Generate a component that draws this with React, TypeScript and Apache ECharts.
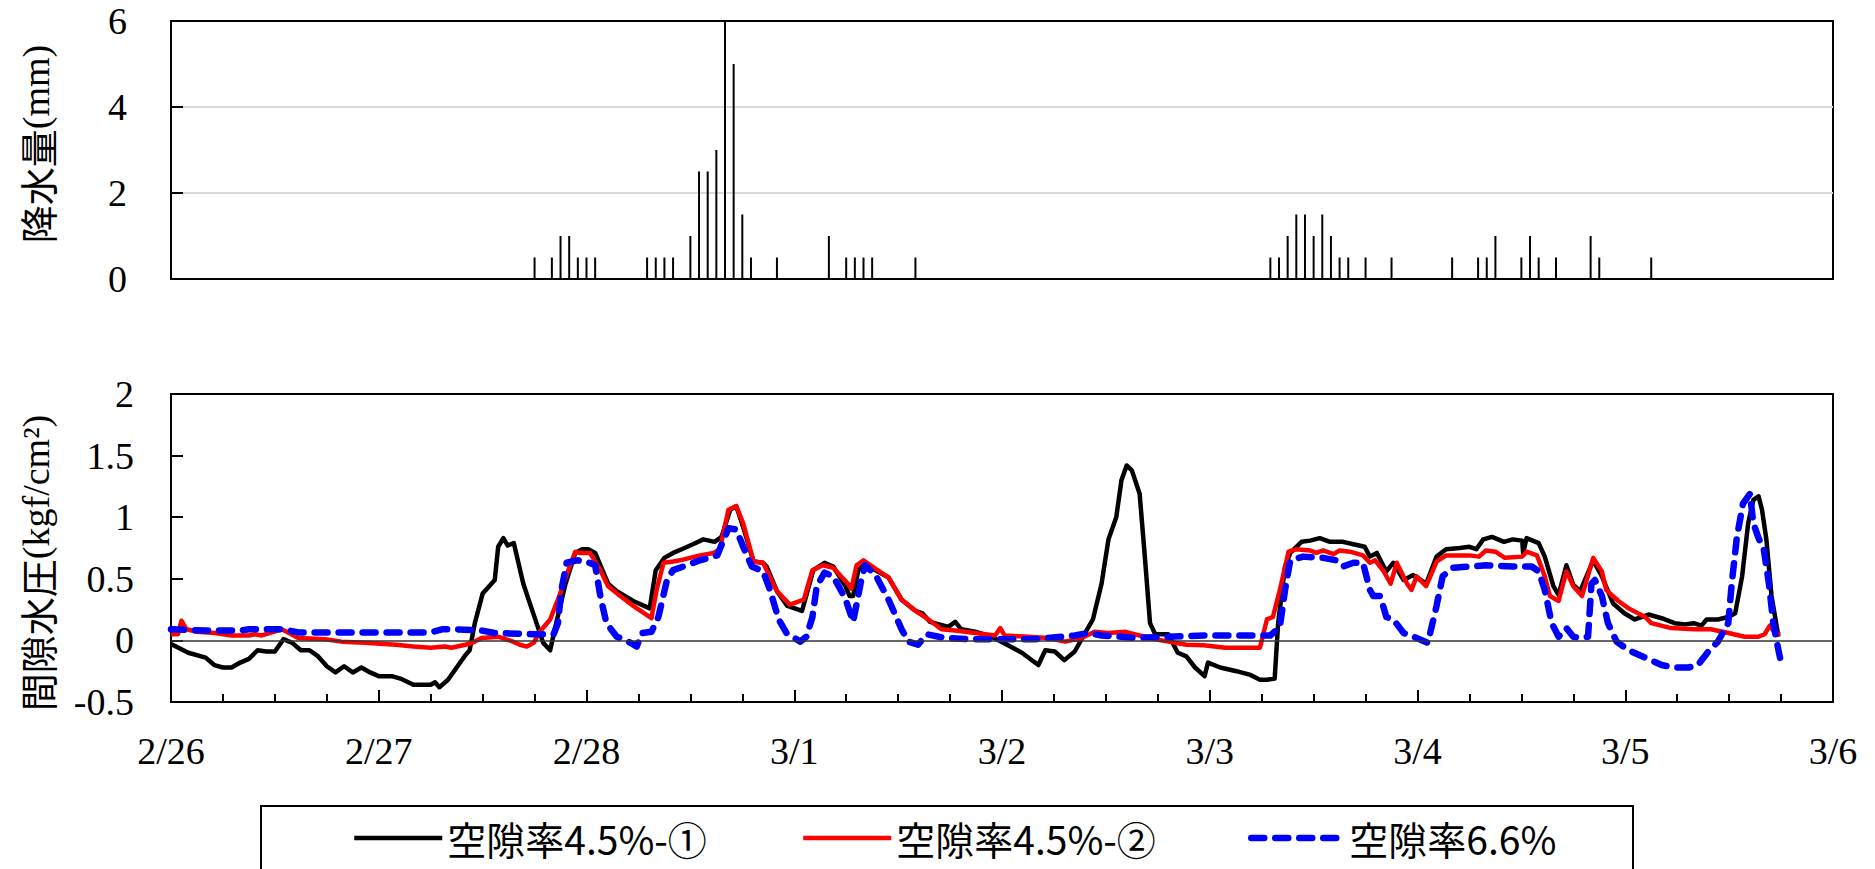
import React, { useEffect, useRef } from 'react';
import * as echarts from 'echarts';

// x positions are hours counted from 2/26 0:00
const DATE_LABELS = ['2/26', '2/27', '2/28', '3/1', '3/2', '3/3', '3/4', '3/5', '3/6'];
const SERIES_NAMES = ['空隙率4.5%-①', '空隙率4.5%-②', '空隙率6.6%'];

// hourly rainfall [hour, mm]
const RAIN: [number, number][] = [
  [42, 0.5], [44, 0.5], [45, 1], [46, 1], [47, 0.5], [48, 0.5], [49, 0.5],
  [55, 0.5], [56, 0.5], [57, 0.5], [58, 0.5], [60, 1], [61, 2.5], [62, 2.5], [63, 3],
  [64, 6], [65, 5], [66, 1.5], [67, 0.5], [70, 0.5], [76, 1], [78, 0.5], [79, 0.5],
  [80, 0.5], [81, 0.5], [86, 0.5],
  [127, 0.5], [128, 0.5], [129, 1], [130, 1.5], [131, 1.5], [132, 1], [133, 1.5], [134, 1],
  [135, 0.5], [136, 0.5], [138, 0.5], [141, 0.5], [148, 0.5], [151, 0.5], [152, 0.5],
  [153, 1], [156, 0.5], [157, 1], [158, 0.5], [160, 0.5], [164, 1], [165, 0.5], [171, 0.5],
];

// pore water pressure [hour, kgf/cm2]
const PORE_1: [number, number][] = [
  [0, -0.03], [2, -0.1], [4, -0.14], [5, -0.2], [6, -0.22], [7, -0.22], [8, -0.18], [9, -0.15],
  [10, -0.08], [11, -0.09], [12, -0.09], [13, 0.01], [14, -0.02], [15, -0.08], [16, -0.08],
  [17, -0.13], [18, -0.21], [19, -0.26], [20, -0.21], [21, -0.26], [22, -0.22], [23, -0.26],
  [24, -0.29], [25.5, -0.29], [26.5, -0.31], [28, -0.36], [30, -0.36], [30.5, -0.34], [31, -0.38],
  [32, -0.32], [33, -0.22], [34, -0.12], [34.5, -0.08], [35.1, 0.14], [36, 0.38], [36.5, 0.42],
  [37.4, 0.49], [37.8, 0.76], [38.4, 0.83], [38.9, 0.77], [39.6, 0.79], [40.7, 0.46], [41.7, 0.25],
  [43, -0.02], [43.8, -0.08], [44.5, 0.14], [45.5, 0.44], [46.7, 0.71], [47.5, 0.74], [48.2, 0.74],
  [49, 0.71], [50.5, 0.46], [51.5, 0.4], [53.4, 0.32], [55.3, 0.26], [56, 0.57], [57, 0.67],
  [58, 0.71], [59, 0.74], [60.3, 0.78], [61.5, 0.82], [62.8, 0.8], [63.6, 0.84], [64.6, 1.06],
  [65.3, 1.09], [66.1, 0.92], [67.3, 0.64], [68.4, 0.63], [68.8, 0.6], [70, 0.4], [71.2, 0.28],
  [72.9, 0.24], [74.2, 0.57], [75.5, 0.63], [76.5, 0.6], [77.9, 0.44], [78.4, 0.36], [78.8, 0.36],
  [79.4, 0.57], [80, 0.61], [81.4, 0.57], [82.9, 0.51], [84.4, 0.33], [86, 0.24], [86.8, 0.22],
  [87.7, 0.15], [89.8, 0.11], [90.6, 0.15], [91.3, 0.09], [92.9, 0.07], [94.8, 0.03], [96.7, -0.04],
  [98.3, -0.1], [100.2, -0.2], [101, -0.08], [102.1, -0.09], [103.2, -0.16], [104.4, -0.09],
  [105.6, 0.06], [106.5, 0.17], [107.5, 0.46], [108.3, 0.82], [109.2, 1.0], [109.8, 1.3],
  [110.4, 1.42], [111, 1.38], [111.9, 1.19], [112.5, 0.68], [113.1, 0.14], [113.7, 0.05],
  [115.2, 0.05], [116.3, -0.1], [117.3, -0.13], [118.3, -0.22], [119.4, -0.29], [119.8, -0.18],
  [121.2, -0.22], [123.1, -0.25], [124.7, -0.28], [125.8, -0.32], [126.6, -0.32], [127.5, -0.31],
  [127.9, 0.14], [128.7, 0.6], [129.3, 0.71], [130.6, 0.8], [131.6, 0.81], [132.7, 0.83],
  [133.9, 0.8], [135.4, 0.8], [136.6, 0.78], [137.9, 0.76], [138.5, 0.68], [139.3, 0.71],
  [140.4, 0.56], [141.2, 0.63], [142.4, 0.49], [143.5, 0.53], [145, 0.46], [146.2, 0.68],
  [147.3, 0.74], [148.9, 0.75], [150, 0.76], [150.8, 0.74], [151.6, 0.82], [152.6, 0.84],
  [154, 0.8], [155, 0.82], [156.1, 0.81], [156.2, 0.71], [156.6, 0.83], [158, 0.79], [158.7, 0.68],
  [159.7, 0.44], [160.3, 0.37], [161.2, 0.61], [162, 0.45], [162.8, 0.4], [164.3, 0.65],
  [165.3, 0.52], [166.6, 0.3], [167.9, 0.22], [169.1, 0.17], [170.7, 0.21], [172.2, 0.18],
  [173.7, 0.14], [174.9, 0.13], [175.9, 0.14], [176.8, 0.12], [177.4, 0.17], [178.7, 0.17],
  [179.9, 0.19], [180.7, 0.22], [181.5, 0.52], [182.2, 0.95], [182.8, 1.14], [183.4, 1.17],
  [183.8, 1.06], [184.3, 0.82], [184.9, 0.36], [185.7, 0.03],
];

const PORE_2: [number, number][] = [
  [0, 0.05], [0.8, 0.05], [1.2, 0.16], [1.8, 0.09], [3, 0.07], [5, 0.06], [7, 0.04], [9, 0.04],
  [9.7, 0.05], [10.5, 0.04], [12.8, 0.09], [13.9, 0.05], [14.7, 0.02], [17.8, 0.01], [19.7, -0.01],
  [22.4, -0.02], [26, -0.035], [28, -0.05], [30, -0.06], [31.6, -0.05], [32.4, -0.06], [34, -0.035],
  [34.8, -0.02], [35.9, 0.02], [37.8, 0.03], [39.5, -0.01], [40.3, -0.035], [41.1, -0.05],
  [41.9, -0.02], [42.6, 0.07], [43.8, 0.17], [44.9, 0.37], [45.9, 0.57], [46.7, 0.72], [47.2, 0.71],
  [48.4, 0.71], [49.6, 0.57], [50.5, 0.44], [51.9, 0.36], [53.4, 0.28], [55.5, 0.18], [56.1, 0.41],
  [56.9, 0.63], [58, 0.64], [58.8, 0.65], [61.1, 0.69], [62.7, 0.71], [63.4, 0.74], [64.4, 1.06],
  [65.3, 1.09], [66.1, 0.95], [67.3, 0.64], [68.4, 0.63], [70, 0.4], [71.5, 0.29], [73.1, 0.33],
  [74.1, 0.57], [75.3, 0.61], [76.5, 0.59], [78.2, 0.46], [78.6, 0.42], [79.2, 0.61], [80, 0.65],
  [81.4, 0.58], [82.9, 0.51], [84.4, 0.33], [86, 0.24], [87.5, 0.17], [89, 0.09], [90.6, 0.08],
  [92.9, 0.06], [95.2, 0.04], [95.8, 0.1], [96.3, 0.04], [99, 0.03], [101.3, 0.02], [103.3, -0.01],
  [105.2, 0.02], [106.7, 0.07], [108.3, 0.06], [110.2, 0.07], [111.3, 0.05], [113.7, 0.01],
  [115.2, -0.01], [117.3, -0.035], [119.3, -0.04], [121.8, -0.06], [125.8, -0.06], [126.6, 0.17],
  [127.3, 0.19], [128.1, 0.41], [129.1, 0.72], [130, 0.74], [131.6, 0.73], [132.3, 0.71],
  [133.1, 0.73], [134.3, 0.7], [135, 0.73], [136.2, 0.72], [137.7, 0.69], [138.5, 0.63],
  [139.1, 0.65], [140.1, 0.56], [140.9, 0.46], [141.6, 0.63], [142.8, 0.46], [143.3, 0.41],
  [143.9, 0.52], [145, 0.44], [146.2, 0.64], [147.3, 0.69], [150, 0.69], [151.1, 0.68],
  [151.9, 0.73], [153, 0.72], [154.1, 0.67], [156.1, 0.68], [156.6, 0.72], [157.8, 0.69],
  [158.7, 0.52], [159.3, 0.36], [160.3, 0.32], [161.2, 0.56], [162, 0.44], [163, 0.36],
  [164.3, 0.67], [165.3, 0.56], [165.8, 0.41], [167.2, 0.32], [168.4, 0.26], [170.3, 0.19],
  [171, 0.14], [173.3, 0.1], [176, 0.09], [177.9, 0.09], [179.9, 0.06], [181.8, 0.03], [183.4, 0.03],
  [184.1, 0.05], [184.7, 0.12], [185.3, 0.06], [185.9, 0.05],
];

const PORE_3: [number, number][] = [
  [0, 0.09], [4, 0.08], [8, 0.08], [9, 0.09], [13, 0.09], [14.7, 0.065], [20, 0.065], [25, 0.065],
  [30, 0.065], [31.3, 0.09], [32.8, 0.09], [35.9, 0.08], [37.4, 0.06], [41.9, 0.05], [44.2, 0.05],
  [44.7, 0.14], [45.1, 0.41], [45.7, 0.63], [46.9, 0.65], [48, 0.64], [49, 0.61], [49.6, 0.36],
  [50.3, 0.14], [51.5, 0.03], [52.6, 0.0], [53.8, -0.05], [54.4, 0.06], [55.5, 0.07], [56.3, 0.19],
  [57.3, 0.49], [58, 0.57], [59.6, 0.61], [61.1, 0.65], [63.1, 0.69], [64.4, 0.91], [65.3, 0.9],
  [66.1, 0.76], [67.1, 0.6], [68.4, 0.56], [69.2, 0.41], [70.2, 0.17], [71.1, 0.06], [72.7, -0.01],
  [73.4, 0.03], [74.1, 0.19], [74.6, 0.44], [75.5, 0.55], [76.5, 0.52], [77.9, 0.34], [78.8, 0.15],
  [79.8, 0.51], [80.2, 0.61], [81.4, 0.53], [82.9, 0.33], [84.4, 0.09], [85.2, -0.01],
  [86.3, -0.035], [87.3, 0.05], [89.4, 0.02], [92.1, 0.01], [96, 0.01], [99.8, 0.01], [102.9, 0.03],
  [104.4, 0.04], [106, 0.06], [107.5, 0.04], [109.8, 0.03], [111.3, 0.02], [115.2, 0.03],
  [119.3, 0.04], [123.1, 0.04], [127, 0.04], [128.1, 0.11], [128.7, 0.41], [129.3, 0.65],
  [130.8, 0.68], [133.1, 0.67], [134.6, 0.65], [135.4, 0.6], [136.6, 0.63], [137.7, 0.63],
  [138.5, 0.41], [138.9, 0.36], [139.7, 0.36], [140.4, 0.19], [141.2, 0.17], [142.4, 0.06],
  [143.9, 0.02], [145.2, -0.02], [146.2, 0.28], [146.9, 0.52], [148.1, 0.59], [150, 0.6],
  [151.9, 0.61], [155, 0.6], [157.2, 0.6], [158, 0.56], [158.7, 0.41], [159.5, 0.14], [160.3, 0.03],
  [161.2, 0.1], [162, 0.03], [162.8, 0.02], [163.7, 0.03], [164.1, 0.46], [164.5, 0.49],
  [165.3, 0.36], [166, 0.14], [167, -0.01], [168.4, -0.08], [170.3, -0.14], [172.2, -0.2],
  [173.7, -0.22], [175.3, -0.22], [176.4, -0.2], [177.6, -0.09], [178.7, -0.01], [179.9, 0.14],
  [180.3, 0.46], [180.9, 0.84], [181.6, 1.11], [182.4, 1.19], [182.8, 0.95], [183.4, 0.83],
  [184, 0.74], [184.6, 0.46], [185.1, 0.14], [185.7, -0.08], [186, -0.18],
];

const SERIF = '"Liberation Serif", "Times New Roman", serif';
const CJK = '"Noto Sans CJK JP", "Noto Sans CJK SC", sans-serif';

const LINE_W = 4.5;
const DASH_W = 6.5;
const DASH: number[] = [13, 11];

function buildOption() {
  const tickStyle = { color: '#000', width: 2 };
  const nameRich = {
    c: { fontFamily: CJK, fontSize: 38, color: '#000' },
    l: { fontFamily: SERIF, fontSize: 38, color: '#000' },
  };
  const legendBase = {
    top: 818,
    padding: 0,
    itemHeight: 14,
    textStyle: { fontFamily: CJK, fontSize: 39, color: '#000', lineHeight: 40 },
    itemStyle: { opacity: 0, borderWidth: 0 },
    selectedMode: false,
  };
  return {
    animation: false,
    backgroundColor: '#ffffff',
    grid: [
      { left: 171, top: 21, width: 1662, height: 258, show: true, borderColor: '#000', borderWidth: 2, backgroundColor: 'rgba(0,0,0,0)' },
      { left: 171, top: 394, width: 1662, height: 308, show: true, borderColor: '#000', borderWidth: 2, backgroundColor: 'rgba(0,0,0,0)' },
    ],
    xAxis: [
      {
        gridIndex: 0, type: 'value', min: 0, max: 192,
        axisLine: { show: false }, axisTick: { show: false }, axisLabel: { show: false }, splitLine: { show: false },
      },
      {
        gridIndex: 1, type: 'value', min: 0, max: 192, interval: 24,
        axisLine: { show: true, onZero: false, lineStyle: tickStyle },
        axisTick: { show: true, inside: true, length: 12, lineStyle: tickStyle },
        minorTick: { show: true, splitNumber: 4, length: 8, lineStyle: tickStyle },
        axisLabel: {
          show: true, showMinLabel: true, showMaxLabel: true, margin: 30,
          fontFamily: SERIF, fontSize: 38, color: '#000', lineHeight: 38,
          formatter: (v: number) => DATE_LABELS[Math.round(v / 24)] ?? '',
        },
        splitLine: { show: false },
      },
    ],
    yAxis: [
      {
        gridIndex: 0, type: 'value', min: 0, max: 6, interval: 2,
        axisLine: { show: false },
        axisTick: { show: true, inside: true, length: 12, lineStyle: tickStyle },
        axisLabel: { margin: 44, fontFamily: SERIF, fontSize: 38, color: '#000' },
        splitLine: { show: true, showMinLine: false, showMaxLine: false, lineStyle: { color: '#d9d9d9', width: 2 } },
        name: '{c|降水量}{l|(mm)}', nameLocation: 'middle', nameRotate: 90, nameGap: 116,
        nameTextStyle: { rich: nameRich, padding: [0, 0, 0, 12] },
      },
      {
        gridIndex: 1, type: 'value', min: -0.5, max: 2, interval: 0.5,
        axisLine: { show: false },
        axisTick: { show: true, inside: true, length: 12, lineStyle: tickStyle },
        axisLabel: { margin: 37, fontFamily: SERIF, fontSize: 38, color: '#000' },
        splitLine: { show: false },
        name: '{c|間隙水圧}{l|(kgf/cm²)}', nameLocation: 'middle', nameRotate: 90, nameGap: 116,
        nameTextStyle: { rich: nameRich, padding: [0, 30, 0, 0] },
      },
    ],
    legend: [
      { ...legendBase, left: 352, itemWidth: 88, data: [SERIES_NAMES[0]], lineStyle: { width: LINE_W } },
      { ...legendBase, left: 801, itemWidth: 88, data: [SERIES_NAMES[1]], lineStyle: { width: LINE_W } },
      { ...legendBase, left: 1248, itemWidth: 93, data: [SERIES_NAMES[2]], lineStyle: { width: DASH_W, type: DASH, cap: 'round' } },
    ],
    graphic: [
      { type: 'rect', shape: { x: 261, y: 806, width: 1372, height: 120 }, style: { fill: 'rgba(0,0,0,0)', stroke: '#000', lineWidth: 2 }, silent: true },
    ],
    series: [
      {
        type: 'bar', xAxisIndex: 0, yAxisIndex: 0, data: RAIN, barWidth: 2,
        itemStyle: { color: '#000' }, silent: true,
      },
      {
        name: SERIES_NAMES[0], type: 'line', xAxisIndex: 1, yAxisIndex: 1, data: PORE_1,
        symbol: 'none', showSymbol: false, itemStyle: { color: '#000' },
        lineStyle: { color: '#000', width: LINE_W, join: 'round' }, silent: true,
        markLine: {
          silent: true, symbol: 'none', label: { show: false },
          lineStyle: { color: '#333', width: 1.5, type: 'solid' },
          data: [{ yAxis: 0 }],
        },
      },
      {
        name: SERIES_NAMES[1], type: 'line', xAxisIndex: 1, yAxisIndex: 1, data: PORE_2,
        symbol: 'none', showSymbol: false, itemStyle: { color: '#ff0000' },
        lineStyle: { color: '#ff0000', width: LINE_W, join: 'round' }, silent: true,
      },
      {
        name: SERIES_NAMES[2], type: 'line', xAxisIndex: 1, yAxisIndex: 1, data: PORE_3,
        symbol: 'none', showSymbol: false, itemStyle: { color: '#0000ff' },
        lineStyle: { color: '#0000ff', width: DASH_W, type: DASH, cap: 'round', join: 'round' }, silent: true,
      },
    ],
  };
}

export default function App() {
  const ref = useRef<HTMLDivElement>(null);
  useEffect(() => {
    if (!ref.current) return;
    const chart = echarts.init(ref.current, null, { renderer: 'svg' });
    chart.setOption(buildOption() as any);
    return () => chart.dispose();
  }, []);
  return (
    <div
      ref={ref}
      style={{ position: 'absolute', left: 0, top: 0, width: 1875, height: 869, background: '#fff' }}
    />
  );
}
